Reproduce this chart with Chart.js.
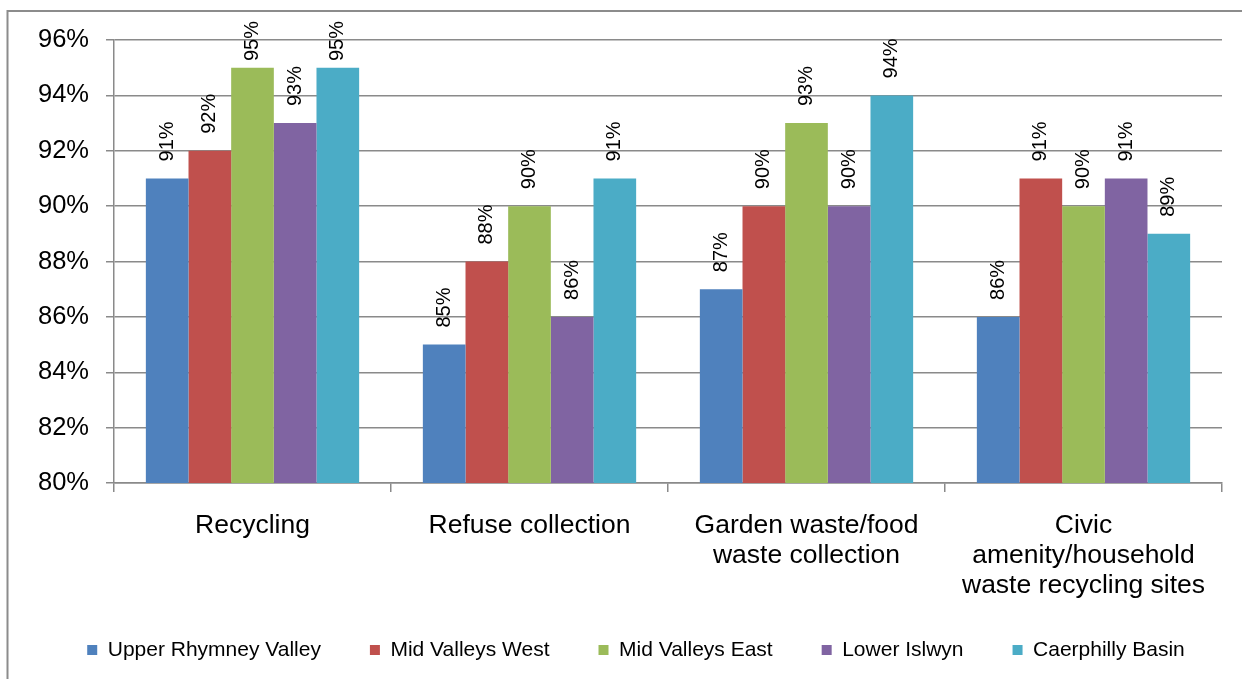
<!DOCTYPE html>
<html>
<head>
<meta charset="utf-8">
<script src="https://cdn.jsdelivr.net/npm/chart.js@4"></script>
<style>
  html, body { margin: 0; padding: 0; background: #fff; }
  #wrap { width: 1242px; height: 679px; position: relative; }
</style>
</head>
<body>
<div id="wrap"><canvas id="viz" width="1242" height="679"></canvas></div>
<script>
// Categories and series
const CATEGORIES = [
  'Recycling',
  'Refuse collection',
  ['Garden waste/food', 'waste collection'],
  ['Civic', 'amenity/household', 'waste recycling sites']
];
const SERIES_NAMES = ['Upper Rhymney Valley', 'Mid Valleys West', 'Mid Valleys East', 'Lower Islwyn', 'Caerphilly Basin'];
const UPPER_RHYMNEY = [91, 85, 87, 86];
const MID_VALLEYS_WEST = [92, 88, 90, 91];
const MID_VALLEYS_EAST = [95, 90, 93, 90];
const LOWER_ISLWYN = [93, 86, 90, 91];
const CAERPHILLY_BASIN = [95, 91, 94, 89];
const COLORS = ['#4F81BD', '#C0504D', '#9BBB59', '#8064A2', '#4BACC6'];

// Y axis
const Y_MIN = 80, Y_MAX = 96, Y_STEP = 2;

const FONT = '"Liberation Sans", Arial, sans-serif';
const GRID = '#8a8a8a';
const LEGEND_H = 74;

// Outer frame (only top/left edges visible)
const framePlugin = {
  id: 'frame',
  beforeDraw(chart) {
    const c = chart.ctx;
    c.save();
    c.strokeStyle = '#8c8c8c';
    c.lineWidth = 2;
    c.beginPath();
    c.moveTo(1242, 11);
    c.lineTo(7.5, 11);
    c.lineTo(7.5, 679);
    c.stroke();
    c.restore();
  }
};

// Fixed legend box height, then nudge it to where the original sits
const legendPlace = {
  id: 'legendPlace',
  beforeLayout(chart) {
    const lg = chart.legend;
    if (lg && !lg._fixed) {
      const fit = lg.fit.bind(lg);
      lg.fit = function () { fit(); this.height = LEGEND_H; };
      lg._fixed = true;
    }
  },
  afterLayout(chart) {
    const lg = chart.legend;
    if (!lg) return;
    lg.left += 25; lg.right += 25;
    lg.top -= 14.5; lg.bottom -= 14.5;
  }
};

// Rotated value labels above bars (pushed down if they would hit the frame)
const valueLabels = {
  id: 'valueLabels',
  afterDatasetsDraw(chart) {
    const c = chart.ctx;
    c.save();
    c.font = '20px ' + FONT;
    c.fillStyle = '#000';
    c.textAlign = 'left';
    c.textBaseline = 'middle';
    chart.data.datasets.forEach((ds, i) => {
      chart.getDatasetMeta(i).data.forEach((bar, j) => {
        const txt = ds.data[j] + '%';
        const w = c.measureText(txt).width;
        let base = bar.y - 17;
        if (base - w < 21) base = 21 + w;
        c.save();
        c.translate(bar.x, base);
        c.rotate(-Math.PI / 2);
        c.fillText(txt, 0, 0);
        c.restore();
      });
    });
    c.restore();
  }
};

const seriesData = [UPPER_RHYMNEY, MID_VALLEYS_WEST, MID_VALLEYS_EAST, LOWER_ISLWYN, CAERPHILLY_BASIN];

new Chart($('viz'), {
  type: 'bar',
  data: {
    labels: CATEGORIES,
    datasets: SERIES_NAMES.map((name, i) => ({
      label: name,
      data: seriesData[i],
      backgroundColor: COLORS[i],
      borderWidth: 0,
      categoryPercentage: 0.77,
      barPercentage: 1.0
    }))
  },
  options: {
    responsive: false,
    animation: false,
    layout: { padding: { top: 40, right: 20, bottom: 0, left: 0 } },
    scales: {
      y: {
        min: Y_MIN, max: Y_MAX,
        afterFit: (s) => { s.width = 114; },
        ticks: {
          stepSize: Y_STEP,
          padding: 17,
          color: '#000',
          font: { family: FONT, size: 25.5 },
          callback: (v) => v + '%'
        },
        grid: { color: GRID, lineWidth: 1.5, tickLength: 8 },
        border: { color: GRID, width: 1.5 }
      },
      x: {
        afterFit: (s) => { s.height = 122; },
        ticks: {
          color: '#000',
          font: { family: FONT, size: 26.5, lineHeight: 1.13 },
          maxRotation: 0,
          autoSkip: false,
          padding: 19
        },
        grid: { drawOnChartArea: false, color: GRID, lineWidth: 1.5, tickLength: 9 },
        border: { color: GRID, width: 1.5 }
      }
    },
    plugins: {
      legend: {
        position: 'bottom',
        labels: {
          boxWidth: 10,
          boxHeight: 10,
          padding: 49,
          color: '#000',
          font: { family: FONT, size: 21 }
        }
      },
      tooltip: { enabled: false }
    }
  },
  plugins: [framePlugin, legendPlace, valueLabels]
});

function $(id) { return document.getElementById(id); }
</script>
</body>
</html>
